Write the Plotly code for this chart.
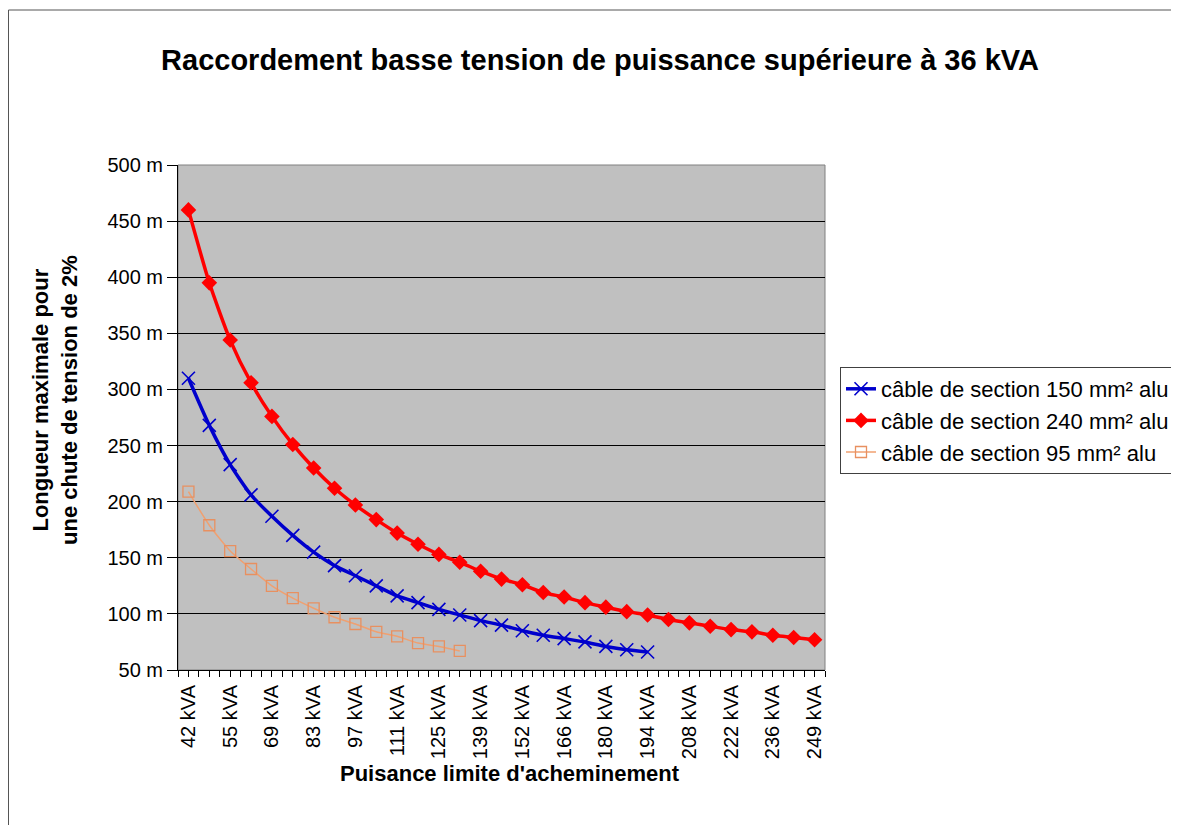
import plotly.graph_objects as go

categories = ["42 kVA", "48 kVA", "55 kVA", "62 kVA", "69 kVA", "76 kVA", "83 kVA", "90 kVA",
              "97 kVA", "104 kVA", "111 kVA", "118 kVA", "125 kVA", "132 kVA", "139 kVA", "145 kVA",
              "152 kVA", "159 kVA", "166 kVA", "173 kVA", "180 kVA", "187 kVA", "194 kVA", "201 kVA",
              "208 kVA", "215 kVA", "222 kVA", "229 kVA", "236 kVA", "242 kVA", "249 kVA"]

cable_150 = [310, 268, 233, 206, 187, 170, 155, 143, 134, 125, 116, 110, 104, 99, 94, 90,
             85, 81, 78, 75, 71, 68, 66]
cable_240 = [460, 395, 344, 306, 276, 251, 230, 212, 197, 184, 172, 162, 153, 146, 138, 131,
             126, 119, 115, 110, 106, 102, 99, 95, 92, 89, 86, 84, 81, 79, 77]
cable_95 = [209, 179, 156, 140, 125, 114, 105, 97, 91, 84, 80, 74, 71, 67]

series_names = ["câble de section 150 mm² alu", "câble de section 240 mm² alu", "câble de section 95 mm² alu"]

title_text = "Raccordement basse tension de puissance supérieure à 36 kVA"
y_title = "Longueur maximale pour<br>une chute de tension de 2%"
x_title = "Puisance limite d'acheminement"

idx = list(range(len(categories)))

W, H = 1171, 817
L, R, T, B = 170, 354, 157, 155
PW, PH = W - L - R, H - T - B

fig = go.Figure()
fig.add_trace(go.Scatter(
    x=idx[:len(cable_150)], y=cable_150, name=series_names[0], mode="lines+markers",
    line=dict(color="#0000CC", width=3.5, shape="spline", smoothing=0.6),
    marker=dict(symbol="x-thin-open", size=13, line=dict(color="#0000CC", width=1.6))))
fig.add_trace(go.Scatter(
    x=idx[:len(cable_240)], y=cable_240, name=series_names[1], mode="lines+markers",
    line=dict(color="#FF0000", width=3.5, shape="spline", smoothing=0.6),
    marker=dict(symbol="diamond", size=12, color="#FF0000")))
fig.add_trace(go.Scatter(
    x=idx[:len(cable_95)], y=cable_95, name=series_names[2], mode="lines+markers",
    line=dict(color="#F0A070", width=1.5, shape="spline", smoothing=0.6),
    marker=dict(symbol="square-open", size=11, color="#E89060", line=dict(width=1.3))))

FONT = "Liberation Sans, Arial, sans-serif"

fig.update_layout(
    width=W, height=H,
    paper_bgcolor="white", plot_bgcolor="#C0C0C0",
    margin=dict(l=L, r=R, t=T, b=B, autoexpand=False),
    font=dict(family=FONT, color="black", size=20),
    title=dict(text="<b>" + title_text + "</b>", x=592 / W, xanchor="center",
               y=1 - 52 / H, yanchor="middle", font=dict(size=29, family=FONT)),
    showlegend=True,
    legend=dict(x=(832 - L) / PW, xanchor="left", y=(H - B - 359) / PH, yanchor="top",
                bordercolor="#404040", borderwidth=1, bgcolor="white",
                font=dict(size=22, family=FONT), tracegroupgap=0, itemwidth=30),
    xaxis=dict(
        range=[-0.5, len(categories) - 0.5], tickmode="array",
        tickvals=idx[::2], ticktext=categories[::2], tickangle=-90,
        ticks="outside", ticklen=6, tickcolor="black", showgrid=False, zeroline=False,
        showline=True, linecolor="black", linewidth=1,
        minor=dict(tickmode="linear", tick0=-0.5, dtick=0.5, ticks="outside", ticklen=6,
                   tickcolor="black", showgrid=False),
        tickfont=dict(size=20)),
    yaxis=dict(
        range=[50, 500], dtick=50, tick0=50, ticksuffix=" m",
        ticks="outside", ticklen=10, tickcolor="black",
        showgrid=True, gridcolor="black", gridwidth=1, zeroline=False,
        showline=True, linecolor="black", linewidth=1,
        tickfont=dict(size=20)),
)

# axis titles
fig.add_annotation(text="<b>" + x_title + "</b>", xref="paper", yref="paper",
                   x=(502 - L) / PW, y=(H - B - 765) / PH, xanchor="center", yanchor="middle",
                   showarrow=False, font=dict(size=22, family=FONT))
fig.add_annotation(text="<b>" + y_title + "</b>", xref="paper", yref="paper",
                   x=(47 - L) / PW, y=(H - B - 392) / PH, xanchor="center", yanchor="middle",
                   textangle=-90, showarrow=False, font=dict(size=22, family=FONT))

# plot area border and outer chart border
fig.add_shape(type="rect", xref="paper", yref="paper", x0=0, x1=1, y0=0, y1=1,
              line=dict(color="#808080", width=1), layer="below")
fig.add_shape(type="rect", xref="paper", yref="paper",
              x0=(0.5 - L) / PW, x1=2.0, y0=-1.0, y1=(H - B - 2) / PH,
              line=dict(color="#555555", width=1))

fig.write_html("out.html")
